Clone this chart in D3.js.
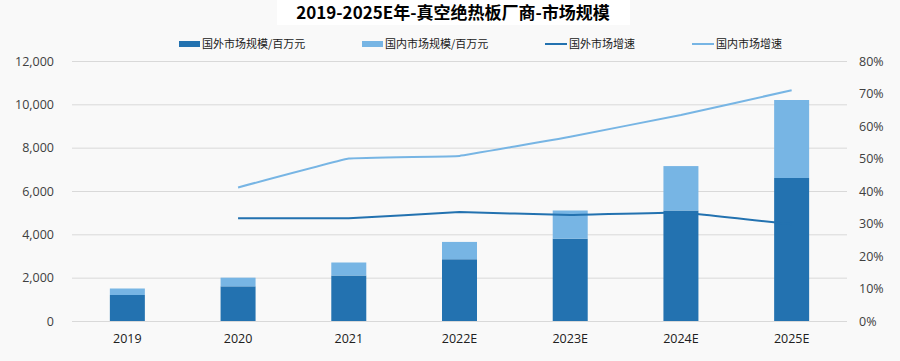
<html>
<head>
<meta charset="utf-8">
<style>
  body { margin:0; background:#f9f9f9; }
  svg { display:block; font-family:"Noto Sans CJK SC","Noto Sans",sans-serif; }
</style>
</head>
<body>
<svg id="chart"></svg>
<script src="https://d3js.org/d3.v7.min.js"></script>
<script>
// data
var years = ["2019","2020","2021","2022E","2023E","2024E","2025E"];
var foreignSize = [1200,1600,2100,2850,3800,5100,6600];
var domesticSize = [300,400,600,800,1300,2050,3600];
var foreignGrowth = [null,31.6,31.6,33.5,32.6,33.4,29.8];
var domesticGrowth = [null,41.1,50.0,50.8,56.7,63.4,71.0];
var leftTicks = [0,2000,4000,6000,8000,10000,12000];
var rightTicks = [0,10,20,30,40,50,60,70,80];

var titleText = "2019-2025E年-真空绝热板厂商-市场规模";
var legendNames = ["国外市场规模/百万元","国内市场规模/百万元","国外市场增速","国内市场增速"];

var dark = "#2372b0", light = "#77b5e4";

var screen = {width:900, height:361};
var margins = {top:61, bottom:40, left:72, right:53};
var graph = {
    width:screen.width-margins.left-margins.right,
    height:screen.height-margins.top-margins.bottom
};

var svg = d3.select("#chart")
    .attr("width",screen.width)
    .attr("height",screen.height);

svg.append("rect")
    .attr("width",screen.width).attr("height",screen.height)
    .attr("fill","#f9f9f9");

// title box
svg.append("rect")
    .attr("x",277).attr("y",0).attr("width",353).attr("height",25)
    .attr("fill","#ffffff");
svg.append("text")
    .attr("x",453).attr("y",19)
    .attr("text-anchor","middle")
    .attr("font-size",17).attr("font-weight","bold")
    .attr("fill","#000")
    .text(titleText);

var xScale = d3.scaleBand()
    .domain(years)
    .range([0,graph.width])
    .paddingInner(0.684)
    .paddingOuter(0.342);

var yScale = d3.scaleLinear()
    .domain([0,12000])
    .range([graph.height,0]);

var y2Scale = d3.scaleLinear()
    .domain([0,80])
    .range([graph.height,0]);

var g = svg.append("g")
    .attr("transform","translate("+margins.left+","+margins.top+")");

// gridlines
g.append("g")
    .selectAll("line")
    .data(leftTicks)
    .enter().append("line")
    .attr("x1",0).attr("x2",graph.width)
    .attr("y1",function(d){return yScale(d)+0.5;})
    .attr("y2",function(d){return yScale(d)+0.5;})
    .attr("stroke","#d9d9d9").attr("stroke-width",1);

// left axis
var leftAxis = d3.axisLeft(yScale)
    .tickValues(leftTicks)
    .tickSize(0).tickPadding(18)
    .tickFormat(d3.format(","));
var la = g.append("g").call(leftAxis);
la.select(".domain").remove();
la.selectAll("text").attr("font-size",12.5).attr("fill","#404040")
    .attr("font-family","'Open Sans','Noto Sans',sans-serif");

// right axis
var rightAxis = d3.axisRight(y2Scale)
    .tickValues(rightTicks)
    .tickSize(0).tickPadding(12)
    .tickFormat(function(d){return d+"%";});
var ra = g.append("g").attr("transform","translate("+graph.width+",0)").call(rightAxis);
ra.select(".domain").remove();
ra.selectAll("text").attr("font-size",12.5).attr("fill","#404040")
    .attr("font-family","'Open Sans','Noto Sans',sans-serif");

// bottom axis
var bottomAxis = d3.axisBottom(xScale).tickSize(0).tickPadding(13);
var ba = g.append("g").attr("transform","translate(0,"+graph.height+")").call(bottomAxis);
ba.select(".domain").remove();
ba.selectAll("text").attr("font-size",12.5).attr("fill","#202020")
    .attr("font-family","'Open Sans','Noto Sans',sans-serif");

// stacked bars
var rows = years.map(function(y,i){
    return {year:y, foreign:foreignSize[i], domestic:domesticSize[i]};
});
var stack = d3.stack().keys(["foreign","domestic"])(rows);
var colors = [dark, light];

g.selectAll(".series")
    .data(stack)
    .enter().append("g")
    .attr("fill",function(d,i){return colors[i];})
    .selectAll("rect")
    .data(function(d){return d;})
    .enter().append("rect")
    .attr("x",function(d){return xScale(d.data.year);})
    .attr("y",function(d){return yScale(d[1]);})
    .attr("width",xScale.bandwidth())
    .attr("height",function(d){return yScale(d[0])-yScale(d[1]);});

// growth lines
var line = d3.line()
    .defined(function(d){return d.v!==null;})
    .x(function(d){return xScale(d.year)+xScale.bandwidth()/2;})
    .y(function(d){return y2Scale(d.v);})
    .curve(d3.curveCardinal.tension(0.85));

var lineData = [
    {vals:foreignGrowth, color:dark},
    {vals:domesticGrowth, color:light}
];
lineData.forEach(function(s){
    g.append("path")
        .datum(years.map(function(y,i){return {year:y, v:s.vals[i]};}))
        .attr("fill","none")
        .attr("stroke",s.color)
        .attr("stroke-width",2)
        .attr("d",line);
});

// legend
var legendX = [179,362,545,692];
var legend = svg.append("g");
legendNames.forEach(function(name,i){
    var lg = legend.append("g").attr("transform","translate("+legendX[i]+",44)");
    if (i<2) {
        lg.append("rect").attr("x",0).attr("y",-3).attr("width",21).attr("height",6)
            .attr("fill",colors[i]);
    } else {
        lg.append("line").attr("x1",0).attr("x2",22).attr("y1",0).attr("y2",0)
            .attr("stroke",colors[i-2]).attr("stroke-width",2);
    }
    lg.append("text")
        .attr("x",i<2?23:24).attr("y",4)
        .attr("font-size",11).attr("fill","#202020")
        .text(name);
});
</script>
</body>
</html>
